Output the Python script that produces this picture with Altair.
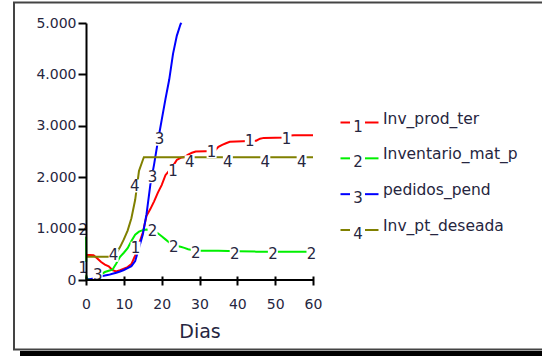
import altair as alt
import pandas as pd

# ---------------- data ----------------
SERIES = ["Inv_prod_ter", "Inventario_mat_p", "pedidos_pend", "Inv_pt_deseada"]
DIGITS = ["1", "2", "3", "4"]
COLORS = ["#ff0000", "#00f000", "#0000ff", "#808000"]

X_TICKS = [0, 10, 20, 30, 40, 50, 60]
Y_TICKS = [0, 1000, 2000, 3000, 4000, 5000]
X_TITLE = "Dias"

INV_PROD_TER_T = [0, 1, 2, 3, 4, 5, 6, 7, 8, 9, 10, 11, 12, 13, 14, 15, 16, 17, 18, 19,
                  20, 21, 22, 23, 24, 25, 26, 27, 28, 29, 34, 35, 36, 37, 38, 45, 46, 47,
                  53, 54, 55, 60]
INV_PROD_TER_V = [487, 487, 480, 420, 350, 300, 265, 190, 165, 190, 220, 250, 310, 480,
                  700, 920, 1250, 1380, 1530, 1700, 1846, 2040, 2130, 2220, 2335, 2378,
                  2392, 2440, 2475, 2500, 2510, 2590, 2630, 2660, 2690, 2710, 2750, 2765,
                  2770, 2810, 2818, 2818]

INV_MAT_T = [0, 0.1, 1, 2, 3, 4, 5, 6, 7, 8, 9, 10, 11, 12, 13, 14, 15, 16, 17, 18, 19,
             20, 21, 22, 23, 24, 25, 26, 27, 28, 29, 30, 35, 40, 45, 50, 60]
INV_MAT_V = [1000, 30, 10, 25, 60, 110, 155, 180, 200, 320, 450, 530, 620, 760, 880, 940,
             970, 980, 975, 950, 910, 850, 790, 730, 690, 660, 645, 625, 600, 585, 575,
             570, 568, 560, 552, 550, 550]

PEDIDOS_T = [0, 1, 2, 3, 4, 5, 6, 7, 8, 9, 10, 11, 12, 13, 14, 15, 16, 17, 18, 19, 20,
             21, 22, 23, 24, 25, 25.25]
PEDIDOS_V = [0, 15, 30, 50, 70, 88, 100, 120, 140, 165, 195, 230, 270, 370, 625, 880,
             1280, 1850, 2250, 2700, 3110, 3520, 3900, 4400, 4750, 4980, 5000]

INV_PT_T = [0, 7, 8, 9, 10, 11, 12, 13, 14, 15, 15.3, 60]
INV_PT_V = [450, 450, 520, 640, 790, 960, 1200, 1560, 2120, 2330, 2390, 2390]

# positions of the numbered line labels
LBL1_T = [-0.7, 13.1, 23.0, 33.2, 43.3, 53.0]
LBL1_V = [227, 620, 2130, 2500, 2695, 2740]
LBL2_T = [-0.7, 17.6, 23.2, 29.0, 39.3, 49.4, 59.6]
LBL2_V = [970, 960, 650, 530, 505, 505, 505]
LBL3_T = [3.1, 17.6, 19.4]
LBL3_V = [90, 2010, 2740]
LBL4_T = [7.3, 12.9, 27.4, 37.5, 47.4, 57.0]
LBL4_V = [480, 1830, 2300, 2300, 2300, 2300]

# ---------------- tables ----------------
def series_df(t, v, i):
    return pd.DataFrame({"t": t, "v": v, "name": SERIES[i], "digit": DIGITS[i]})

lines_df = pd.concat([
    series_df(INV_PROD_TER_T, INV_PROD_TER_V, 0),
    series_df(INV_MAT_T, INV_MAT_V, 1),
    series_df(PEDIDOS_T, PEDIDOS_V, 2),
    series_df(INV_PT_T, INV_PT_V, 3),
], ignore_index=True)

labels_df = pd.concat([
    series_df(LBL1_T, LBL1_V, 0),
    series_df(LBL2_T, LBL2_V, 1),
    series_df(LBL3_T, LBL3_V, 2),
    series_df(LBL4_T, LBL4_V, 3),
], ignore_index=True)

legend_df = pd.DataFrame({"name": SERIES, "digit": DIGITS})
one_row = pd.DataFrame({"k": [0]})

# ---------------- styling ----------------
FONT = "DejaVu Sans"
TXT = "#262640"
BOX = "M-1,-1.3L1,-1.3L1,1.3L-1,1.3Z"

xs = alt.Scale(domain=[X_TICKS[0], X_TICKS[-1]], nice=False, zero=False)
ys = alt.Scale(domain=[Y_TICKS[0], Y_TICKS[-1]], nice=False, zero=False)
cs = alt.Scale(domain=SERIES, range=COLORS)

x_axis = alt.Axis(values=X_TICKS, format="d", offset=-4, domain=False, tickSize=9,
                  tickWidth=2, tickColor="black", labelPadding=12, labelFont=FONT,
                  labelFontSize=14, labelColor=TXT, titleFont=FONT, titleFontSize=19,
                  titleFontWeight="normal", titleColor=TXT, titleBaseline="alphabetic",
                  titleY=61, grid=False, zindex=1, labelFlush=False, labelOverlap=False)
y_axis = alt.Axis(values=Y_TICKS, labelExpr="replace(format(datum.value, ','), ',', '.')",
                  domainColor="black", domainWidth=2, tickSize=8, tickWidth=2,
                  tickColor="black", labelPadding=2, labelFont=FONT, labelFontSize=14,
                  labelColor=TXT, grid=False, zindex=1, labelFlush=False, labelOverlap=False)

X_ENC = alt.X("t:Q", scale=xs, axis=x_axis, title=X_TITLE)
Y_ENC = alt.Y("v:Q", scale=ys, axis=y_axis, title=None)
C_ENC = alt.Color("name:N", scale=cs, legend=None)

lines = alt.Chart(lines_df).mark_line(strokeWidth=2).encode(
    x=X_ENC, y=Y_ENC, color=C_ENC, order="t:Q")

boxes = alt.Chart(labels_df).mark_point(shape=BOX, filled=True, color="white",
                                         opacity=1, size=100, strokeWidth=0).encode(
    x=X_ENC, y=Y_ENC)

texts = alt.Chart(labels_df).mark_text(font=FONT, fontSize=15, color=TXT,
                                        baseline="middle").encode(
    x=X_ENC, y=Y_ENC, text="digit:N")

xline = alt.Chart(one_row).mark_rule(color="black", strokeWidth=2).encode(
    x=alt.X(datum=X_TICKS[0], scale=xs, axis=x_axis, title=X_TITLE),
    x2=alt.X2(datum=X_TICKS[-1]),
    y=alt.Y(datum=Y_TICKS[0], scale=ys, axis=y_axis, title=None))

main = alt.layer(lines, boxes, texts, xline)

# ---------------- legend ----------------
LY = alt.Y("name:N", scale=alt.Scale(type="point", domain=SERIES, range=[99.5, 207],
                                     padding=0), axis=None)
dash1 = alt.Chart(legend_df).mark_rule(strokeWidth=2).encode(
    x=alt.value(254.5), x2=alt.value(264), y=LY, color=C_ENC)
dash2 = alt.Chart(legend_df).mark_rule(strokeWidth=2).encode(
    x=alt.value(279), x2=alt.value(292.5), y=LY, color=C_ENC)
ldigit = alt.Chart(legend_df).mark_text(font=FONT, fontSize=15, color=TXT,
                                         baseline="alphabetic", dy=9).encode(
    x=alt.value(272), y=LY, text="digit:N")
ltext = alt.Chart(legend_df).mark_text(font=FONT, fontSize=15.5, color=TXT,
                                        align="left", baseline="alphabetic", dy=1).encode(
    x=alt.value(297), y=LY, text="name:N")
legend = alt.layer(dash1, dash2, ldigit, ltext)

# ---------------- frame ----------------
frame = alt.Chart(one_row).mark_rect(fill="white", fillOpacity=0, stroke="#444444",
                                      strokeWidth=2).encode(
    x=alt.value(-72), x2=alt.value(460), y=alt.value(-20.5), y2=alt.value(326.5))
shadow = alt.Chart(one_row).mark_rect(color="black").encode(
    x=alt.value(-66), x2=alt.value(460), y=alt.value(328), y2=alt.value(336))

chart = alt.layer(frame, shadow, main, legend).resolve_scale(
    y="independent"
).properties(
    width=227, height=257,
    autosize=alt.AutoSizeParams(type="none"),
    padding={"left": 86, "top": 23, "right": 229, "bottom": 76},
    background="white",
).configure_view(stroke=None)

chart.save("out.html", embed_options={"renderer": "svg", "actions": False})
